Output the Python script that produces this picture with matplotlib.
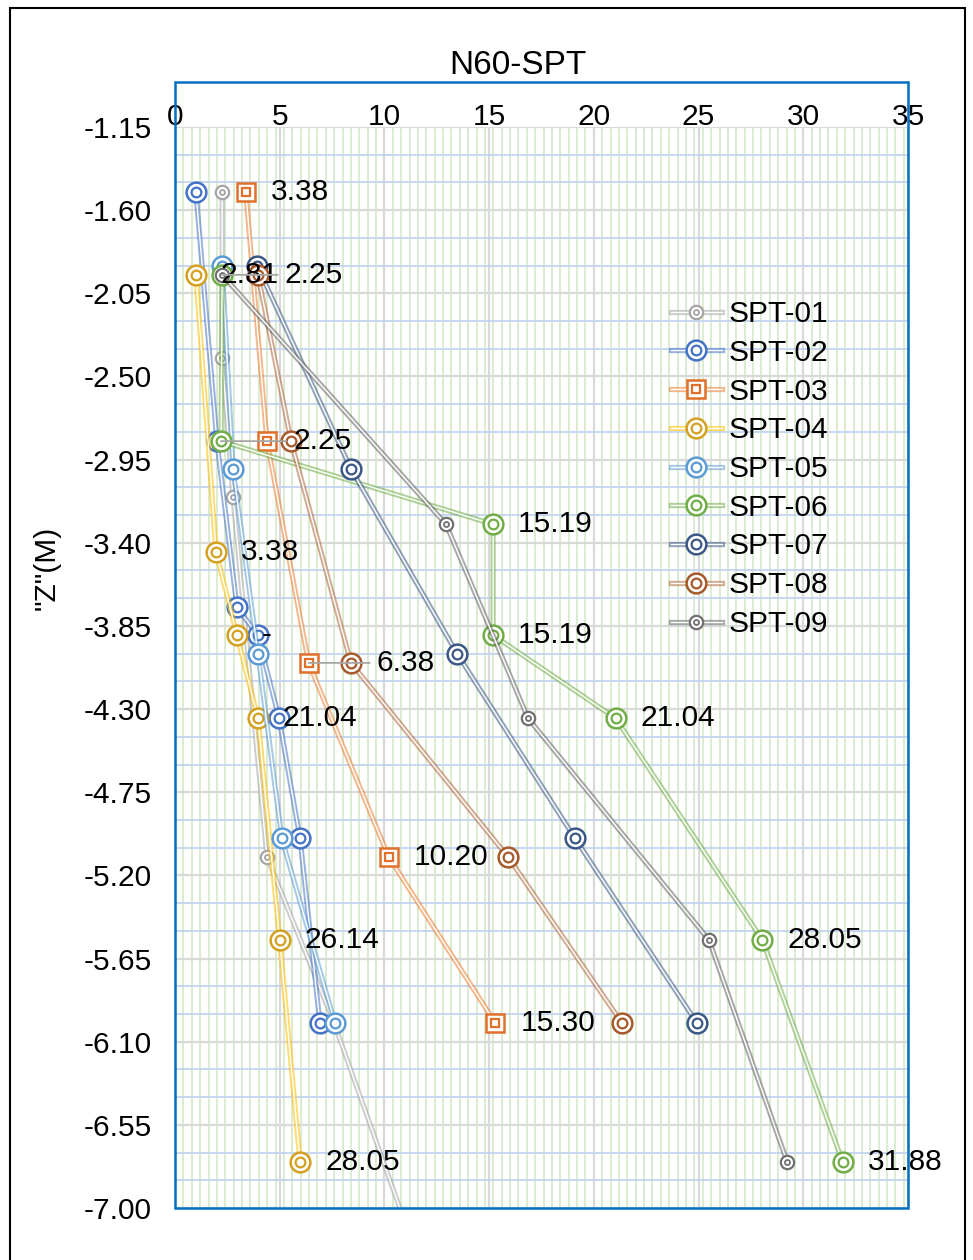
import matplotlib
matplotlib.use('Agg')
import matplotlib.pyplot as plt
import matplotlib.patheffects as pe
from matplotlib.legend_handler import HandlerTuple
from matplotlib.patches import Rectangle
import numpy as np

plt.rcParams['font.family'] = ['Liberation Sans', 'DejaVu Sans']

# ---------------- data ----------------
names = ['SPT-01', 'SPT-02', 'SPT-03', 'SPT-04', 'SPT-05',
         'SPT-06', 'SPT-07', 'SPT-08', 'SPT-09']

spt01_n = [2.25, 2.25, 2.77, 4.39, 7.60, 12.30]
spt01_z = [-1.50, -2.40, -3.15, -5.10, -6.00, -7.50]

spt02_n = [1.00, 2.00, 2.96, 3.96, 4.97, 5.97, 6.92]
spt02_z = [-1.50, -2.85, -3.75, -3.90, -4.35, -5.00, -6.00]

spt03_n = [3.38, 4.39, 6.38, 10.20, 15.30]
spt03_z = [-1.50, -2.85, -4.05, -5.10, -6.00]
spt03_lbl = ['3.38', '', '6.38', '10.20', '15.30']

spt04_n = [1.00, 1.96, 2.96, 3.96, 5.00, 5.97]
spt04_z = [-1.95, -3.45, -3.90, -4.35, -5.55, -6.75]
spt04_lbl = ['2.81', '3.38', '-', '21.04', '26.14', '28.05']

spt05_n = [2.25, 2.77, 3.96, 5.10, 7.64]
spt05_z = [-1.90, -3.00, -4.00, -5.00, -6.00]

spt06_n = [2.25, 2.20, 15.19, 15.19, 21.04, 28.05, 31.88]
spt06_z = [-1.95, -2.85, -3.30, -3.90, -4.35, -5.55, -6.75]
spt06_lbl = ['2.25', '2.25', '15.19', '15.19', '21.04', '28.05', '31.88']

spt07_n = [3.92, 8.40, 13.47, 19.10, 24.93]
spt07_z = [-1.90, -3.00, -4.00, -5.00, -6.00]

spt08_n = [3.96, 5.54, 8.40, 15.90, 21.35]
spt08_z = [-1.95, -2.85, -4.05, -5.10, -6.00]

spt09_n = [2.25, 12.94, 16.86, 25.50, 29.23]
spt09_z = [-1.95, -3.30, -4.35, -5.55, -6.75]

x_ticks = [0, 5, 10, 15, 20, 25, 30, 35]
y_ticks = [-7.00, -6.55, -6.10, -5.65, -5.20, -4.75, -4.30, -3.85,
           -3.40, -2.95, -2.50, -2.05, -1.60, -1.15]

# ---------------- style ----------------
W, H = 973, 1260
FS = 21.5
fig = plt.figure(figsize=(W / 100, H / 100), dpi=100)


def fx(px):
    return px / W


def fy(py):
    return 1 - py / H


ax = fig.add_axes([fx(175), fy(1208), fx(908) - fx(175), fy(127) - fy(1208)])

series = [
    (spt01_n, spt01_z, '#A5A5A5', '#A5A5A5', 'o', 'small'),
    (spt02_n, spt02_z, '#4472C4', '#4472C4', 'o', 'big'),
    (spt03_n, spt03_z, '#ED7D31', '#E0702A', 's', 'big'),
    (spt04_n, spt04_z, '#FFC000', '#D4A020', 'o', 'big'),
    (spt05_n, spt05_z, '#5B9BD5', '#5B9BD5', 'o', 'big'),
    (spt06_n, spt06_z, '#70AD47', '#70AD47', 'o', 'big'),
    (spt07_n, spt07_z, '#3B5785', '#3B5785', 'o', 'big'),
    (spt08_n, spt08_z, '#B0653A', '#A65A2A', 'o', 'big'),
    (spt09_n, spt09_z, '#636363', '#707070', 'o', 'small'),
]

handles = []
for i, (n, z, lc, mc, mk, size) in enumerate(series):
    base = 2 + i * 0.1
    ln, = ax.plot(n, z, color='white', lw=1.0, zorder=base,
                  solid_joinstyle='round',
                  path_effects=[pe.Stroke(linewidth=3.8, foreground=lc, alpha=0.55),
                                pe.Normal()])
    if size == 'big':
        ms_o, ms_i, mew_o, mew_i = 14.2, 7.0, 1.8, 1.6
        if mk == 's':
            ms_o, ms_i = 13.2, 6.4
    else:
        ms_o, ms_i, mew_o, mew_i = 9.6, 3.6, 1.6, 1.3
    mo, = ax.plot(n, z, ls='none', marker=mk, ms=ms_o, mfc='white', mec=mc,
                  mew=mew_o, zorder=base + 0.02)
    mi, = ax.plot(n, z, ls='none', marker=mk, ms=ms_i, mfc='none', mec=mc,
                  mew=mew_i, zorder=base + 0.04)
    handles.append((ln, mo, mi))

# ---------------- data labels ----------------
lab_kw = dict(textcoords='offset points', va='center', ha='left',
              fontsize=FS, zorder=20, color='black')
leader = dict(arrowstyle='-', color='#A6A6A6', lw=1.3, shrinkA=3, shrinkB=0)

for xv, zv, t in zip(spt03_n, spt03_z, spt03_lbl):
    if not t:
        continue
    if t == '6.38':
        ax.annotate(t, (xv, zv), xytext=(49, 0), arrowprops=leader, **lab_kw)
    else:
        ax.annotate(t, (xv, zv), xytext=(18, 0), **lab_kw)

for xv, zv, t in zip(spt04_n, spt04_z, spt04_lbl):
    ax.annotate(t, (xv, zv), xytext=(18, 0), **lab_kw)

for k, (xv, zv, t) in enumerate(zip(spt06_n, spt06_z, spt06_lbl)):
    if k == 0:
        ax.annotate(t, (xv, zv), xytext=(45, 0), arrowprops=leader, **lab_kw)
    elif k == 1:
        ax.annotate(t, (xv, zv), xytext=(52, 0), arrowprops=leader, **lab_kw)
    else:
        ax.annotate(t, (xv, zv), xytext=(18, 0), **lab_kw)

# ---------------- axes ----------------
ax.set_xlim(0, 35)
ax.set_ylim(-7.0, -1.15)
ax.set_xticks(x_ticks)
ax.set_xticklabels([str(v) for v in x_ticks])
ax.set_xticks(np.arange(0, 35.01, 0.4), minor=True)
ax.set_yticks(y_ticks)
ax.set_yticklabels(['%.2f' % v for v in y_ticks])
ax.set_yticks(np.arange(-7.0, -1.149, 0.15), minor=True)
ax.xaxis.tick_top()
ax.tick_params(axis='x', which='both', length=0, pad=-3, labelsize=FS)
ax.tick_params(axis='y', which='both', length=0, pad=17, labelsize=FS)
ax.grid(which='major', color='#D9D9D9', lw=1.6, zorder=0)
ax.grid(which='minor', axis='x', color='#D8EACD', lw=1.3, zorder=0)
ax.grid(which='minor', axis='y', color='#C3D4F0', lw=1.3, zorder=0)
ax.set_axisbelow(True)
for s in ax.spines.values():
    s.set_visible(False)

# plot area border (extends above the axis)
fig.add_artist(Rectangle((fx(175), fy(1208)), fx(908) - fx(175), fy(82) - fy(1208),
                         transform=fig.transFigure, fill=False, ec='#0070C0',
                         lw=1.8, zorder=30))
# chart outer border
fig.add_artist(Rectangle((fx(10), fy(1275)), fx(965) - fx(10), fy(8) - fy(1275),
                         transform=fig.transFigure, fill=False, ec='black',
                         lw=1.5, zorder=30))

fig.text(fx(518), fy(66), 'N60-SPT', ha='center', va='center', fontsize=24)
fig.text(fx(47), fy(568), '"Z"(M)', rotation=90, ha='center', va='center',
         fontsize=FS)

fig.legend(handles, names, handler_map={tuple: HandlerTuple(ndivide=1)},
           loc='upper left', bbox_to_anchor=(fx(671), fy(300)),
           frameon=False, fontsize=FS, numpoints=1, handlelength=1.7,
           handletextpad=0.22, labelspacing=0.36, borderpad=0, borderaxespad=0)

fig.savefig('out.png', dpi=100)
